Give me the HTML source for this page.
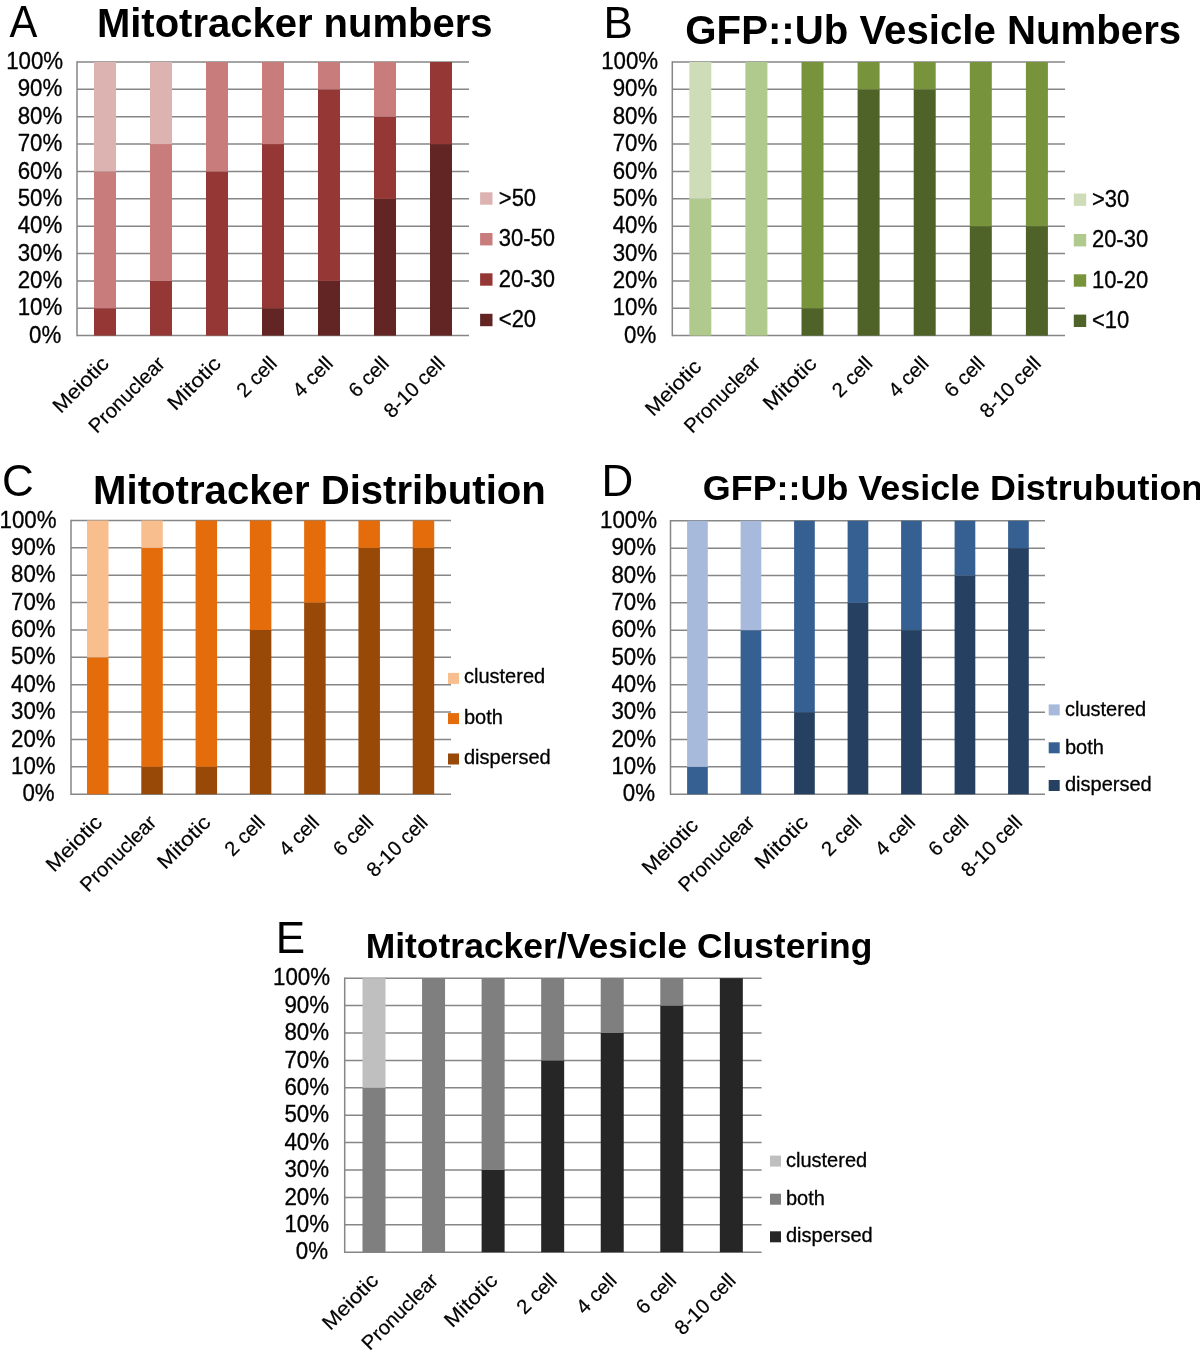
<!DOCTYPE html>
<html><head><meta charset="utf-8"><title>Figure</title>
<style>html,body{margin:0;padding:0;background:#fff;} body{width:1200px;height:1350px;overflow:hidden;font-family:"Liberation Sans", sans-serif;} svg{display:block;will-change:transform;}</style>
</head><body>
<svg width="1200" height="1350" viewBox="0 0 1200 1350" font-family='"Liberation Sans", sans-serif' fill="#000"><g stroke="#868686" stroke-width="1.5"><line x1="77" y1="62" x2="469" y2="62"/><line x1="77" y1="89.36" x2="469" y2="89.36"/><line x1="77" y1="116.72" x2="469" y2="116.72"/><line x1="77" y1="144.08" x2="469" y2="144.08"/><line x1="77" y1="171.44" x2="469" y2="171.44"/><line x1="77" y1="198.8" x2="469" y2="198.8"/><line x1="77" y1="226.16" x2="469" y2="226.16"/><line x1="77" y1="253.52" x2="469" y2="253.52"/><line x1="77" y1="280.88" x2="469" y2="280.88"/><line x1="77" y1="308.24" x2="469" y2="308.24"/><line x1="77" y1="335.6" x2="469" y2="335.6"/><line x1="77" y1="61.25" x2="77" y2="336.35"/></g>
<rect x="94" y="308.24" width="22" height="27.36" fill="#953735"/><rect x="94" y="171.44" width="22" height="136.8" fill="#C87C7B"/><rect x="94" y="62" width="22" height="109.44" fill="#DDB3B2"/><rect x="150" y="280.88" width="22" height="54.72" fill="#953735"/><rect x="150" y="144.08" width="22" height="136.8" fill="#C87C7B"/><rect x="150" y="62" width="22" height="82.08" fill="#DDB3B2"/><rect x="206" y="171.44" width="22" height="164.16" fill="#953735"/><rect x="206" y="62" width="22" height="109.44" fill="#C87C7B"/><rect x="262" y="308.24" width="22" height="27.36" fill="#632523"/><rect x="262" y="144.08" width="22" height="164.16" fill="#953735"/><rect x="262" y="62" width="22" height="82.08" fill="#C87C7B"/><rect x="318" y="280.88" width="22" height="54.72" fill="#632523"/><rect x="318" y="89.36" width="22" height="191.52" fill="#953735"/><rect x="318" y="62" width="22" height="27.36" fill="#C87C7B"/><rect x="374" y="198.8" width="22" height="136.8" fill="#632523"/><rect x="374" y="116.72" width="22" height="82.08" fill="#953735"/><rect x="374" y="62" width="22" height="54.72" fill="#C87C7B"/><rect x="430" y="144.08" width="22" height="191.52" fill="#632523"/><rect x="430" y="62" width="22" height="82.08" fill="#953735"/>
<g font-size="22.3" stroke="#000" stroke-width="0.3"><text transform="translate(63.19,69.1) scale(1,1.075)" text-anchor="end">100%</text><text transform="translate(62.29,96.46) scale(1,1.075)" text-anchor="end">90%</text><text transform="translate(62.29,123.82) scale(1,1.075)" text-anchor="end">80%</text><text transform="translate(62.29,151.18) scale(1,1.075)" text-anchor="end">70%</text><text transform="translate(62.29,178.54) scale(1,1.075)" text-anchor="end">60%</text><text transform="translate(62.29,205.9) scale(1,1.075)" text-anchor="end">50%</text><text transform="translate(62.29,233.26) scale(1,1.075)" text-anchor="end">40%</text><text transform="translate(62.29,260.62) scale(1,1.075)" text-anchor="end">30%</text><text transform="translate(62.29,287.98) scale(1,1.075)" text-anchor="end">20%</text><text transform="translate(62.29,315.34) scale(1,1.075)" text-anchor="end">10%</text><text transform="translate(61.29,342.7) scale(1,1.075)" text-anchor="end">0%</text></g>
<g><rect x="480.1" y="313.8" width="12.4" height="12.4" fill="#632523"/><text transform="translate(498.8,327) scale(1,1.09)" font-size="22" stroke="#000" stroke-width="0.3"><20</text><rect x="480.1" y="273.3" width="12.4" height="12.4" fill="#953735"/><text transform="translate(498.8,286.5) scale(1,1.09)" font-size="22" stroke="#000" stroke-width="0.3">20-30</text><rect x="480.1" y="233" width="12.4" height="12.4" fill="#C87C7B"/><text transform="translate(498.8,246.2) scale(1,1.09)" font-size="22" stroke="#000" stroke-width="0.3">30-50</text><rect x="480.1" y="192.3" width="12.4" height="12.4" fill="#DDB3B2"/><text transform="translate(498.8,205.5) scale(1,1.09)" font-size="22" stroke="#000" stroke-width="0.3">>50</text></g>
<g font-size="20.3" stroke="#000" stroke-width="0.2"><text transform="translate(110.15,364.9) rotate(-45)" text-anchor="end" textLength="69.8" lengthAdjust="spacingAndGlyphs">Meiotic</text><text transform="translate(166.15,364.9) rotate(-45)" text-anchor="end">Pronuclear</text><text transform="translate(222.15,364.9) rotate(-45)" text-anchor="end" textLength="65.9" lengthAdjust="spacingAndGlyphs">Mitotic</text><text transform="translate(278.15,364.9) rotate(-45)" text-anchor="end">2 cell</text><text transform="translate(334.15,364.9) rotate(-45)" text-anchor="end">4 cell</text><text transform="translate(390.15,364.9) rotate(-45)" text-anchor="end">6 cell</text><text transform="translate(446.15,364.9) rotate(-45)" text-anchor="end">8-10 cell</text></g>
<text transform="translate(9.41,36.9) scale(0.95,1)" font-size="44">A</text>
<text transform="translate(96.92,37.4) scale(1,1.03)" font-size="40" font-weight="bold">Mitotracker numbers</text>
<g stroke="#868686" stroke-width="1.5"><line x1="672.3" y1="62" x2="1065" y2="62"/><line x1="672.3" y1="89.36" x2="1065" y2="89.36"/><line x1="672.3" y1="116.72" x2="1065" y2="116.72"/><line x1="672.3" y1="144.08" x2="1065" y2="144.08"/><line x1="672.3" y1="171.44" x2="1065" y2="171.44"/><line x1="672.3" y1="198.8" x2="1065" y2="198.8"/><line x1="672.3" y1="226.16" x2="1065" y2="226.16"/><line x1="672.3" y1="253.52" x2="1065" y2="253.52"/><line x1="672.3" y1="280.88" x2="1065" y2="280.88"/><line x1="672.3" y1="308.24" x2="1065" y2="308.24"/><line x1="672.3" y1="335.6" x2="1065" y2="335.6"/><line x1="672.3" y1="61.25" x2="672.3" y2="336.35"/></g>
<rect x="689.3" y="198.8" width="22" height="136.8" fill="#B0C98C"/><rect x="689.3" y="62" width="22" height="136.8" fill="#CEDDB8"/><rect x="745.4" y="62" width="22" height="273.6" fill="#B0C98C"/><rect x="801.5" y="308.24" width="22" height="27.36" fill="#4F6228"/><rect x="801.5" y="62" width="22" height="246.24" fill="#77933C"/><rect x="857.6" y="89.36" width="22" height="246.24" fill="#4F6228"/><rect x="857.6" y="62" width="22" height="27.36" fill="#77933C"/><rect x="913.7" y="89.36" width="22" height="246.24" fill="#4F6228"/><rect x="913.7" y="62" width="22" height="27.36" fill="#77933C"/><rect x="969.8" y="226.16" width="22" height="109.44" fill="#4F6228"/><rect x="969.8" y="62" width="22" height="164.16" fill="#77933C"/><rect x="1025.9" y="226.16" width="22" height="109.44" fill="#4F6228"/><rect x="1025.9" y="62" width="22" height="164.16" fill="#77933C"/>
<g font-size="22.3" stroke="#000" stroke-width="0.3"><text transform="translate(658.19,69.1) scale(1,1.075)" text-anchor="end">100%</text><text transform="translate(657.29,96.46) scale(1,1.075)" text-anchor="end">90%</text><text transform="translate(657.29,123.82) scale(1,1.075)" text-anchor="end">80%</text><text transform="translate(657.29,151.18) scale(1,1.075)" text-anchor="end">70%</text><text transform="translate(657.29,178.54) scale(1,1.075)" text-anchor="end">60%</text><text transform="translate(657.29,205.9) scale(1,1.075)" text-anchor="end">50%</text><text transform="translate(657.29,233.26) scale(1,1.075)" text-anchor="end">40%</text><text transform="translate(657.29,260.62) scale(1,1.075)" text-anchor="end">30%</text><text transform="translate(657.29,287.98) scale(1,1.075)" text-anchor="end">20%</text><text transform="translate(657.29,315.34) scale(1,1.075)" text-anchor="end">10%</text><text transform="translate(656.29,342.7) scale(1,1.075)" text-anchor="end">0%</text></g>
<g><rect x="1073.8" y="314.6" width="12.4" height="12.4" fill="#4F6228"/><text transform="translate(1091.9,327.8) scale(1,1.09)" font-size="22" stroke="#000" stroke-width="0.3"><10</text><rect x="1073.8" y="274.3" width="12.4" height="12.4" fill="#77933C"/><text transform="translate(1091.9,287.5) scale(1,1.09)" font-size="22" stroke="#000" stroke-width="0.3">10-20</text><rect x="1073.8" y="234" width="12.4" height="12.4" fill="#B0C98C"/><text transform="translate(1091.9,247.2) scale(1,1.09)" font-size="22" stroke="#000" stroke-width="0.3">20-30</text><rect x="1073.8" y="193.5" width="12.4" height="12.4" fill="#CEDDB8"/><text transform="translate(1091.9,206.7) scale(1,1.09)" font-size="22" stroke="#000" stroke-width="0.3">>30</text></g>
<g font-size="20.3" stroke="#000" stroke-width="0.2"><text transform="translate(702.5,367.9) rotate(-45)" text-anchor="end" textLength="69.8" lengthAdjust="spacingAndGlyphs">Meiotic</text><text transform="translate(761.6,364.9) rotate(-45)" text-anchor="end">Pronuclear</text><text transform="translate(817.7,364.9) rotate(-45)" text-anchor="end" textLength="65.9" lengthAdjust="spacingAndGlyphs">Mitotic</text><text transform="translate(873.8,364.9) rotate(-45)" text-anchor="end">2 cell</text><text transform="translate(929.9,364.9) rotate(-45)" text-anchor="end">4 cell</text><text transform="translate(986,364.9) rotate(-45)" text-anchor="end">6 cell</text><text transform="translate(1042.1,364.9) rotate(-45)" text-anchor="end">8-10 cell</text></g>
<text transform="translate(603.49,37.9) scale(1,1)" font-size="44">B</text>
<text transform="translate(685.35,43.6) scale(1,1.0)" font-size="40.2" font-weight="bold">GFP::Ub Vesicle Numbers</text>
<g stroke="#868686" stroke-width="1.5"><line x1="71" y1="520.5" x2="451" y2="520.5"/><line x1="71" y1="547.87" x2="451" y2="547.87"/><line x1="71" y1="575.24" x2="451" y2="575.24"/><line x1="71" y1="602.61" x2="451" y2="602.61"/><line x1="71" y1="629.98" x2="451" y2="629.98"/><line x1="71" y1="657.35" x2="451" y2="657.35"/><line x1="71" y1="684.72" x2="451" y2="684.72"/><line x1="71" y1="712.09" x2="451" y2="712.09"/><line x1="71" y1="739.46" x2="451" y2="739.46"/><line x1="71" y1="766.83" x2="451" y2="766.83"/><line x1="71" y1="794.2" x2="451" y2="794.2"/><line x1="71" y1="519.75" x2="71" y2="794.95"/></g>
<rect x="87" y="657.35" width="21.5" height="136.85" fill="#E46C0A"/><rect x="87" y="520.5" width="21.5" height="136.85" fill="#F9BE8E"/><rect x="141.29" y="766.83" width="21.5" height="27.37" fill="#984807"/><rect x="141.29" y="547.87" width="21.5" height="218.96" fill="#E46C0A"/><rect x="141.29" y="520.5" width="21.5" height="27.37" fill="#F9BE8E"/><rect x="195.57" y="766.83" width="21.5" height="27.37" fill="#984807"/><rect x="195.57" y="520.5" width="21.5" height="246.33" fill="#E46C0A"/><rect x="249.86" y="629.98" width="21.5" height="164.22" fill="#984807"/><rect x="249.86" y="520.5" width="21.5" height="109.48" fill="#E46C0A"/><rect x="304.14" y="602.61" width="21.5" height="191.59" fill="#984807"/><rect x="304.14" y="520.5" width="21.5" height="82.11" fill="#E46C0A"/><rect x="358.43" y="547.87" width="21.5" height="246.33" fill="#984807"/><rect x="358.43" y="520.5" width="21.5" height="27.37" fill="#E46C0A"/><rect x="412.71" y="547.87" width="21.5" height="246.33" fill="#984807"/><rect x="412.71" y="520.5" width="21.5" height="27.37" fill="#E46C0A"/>
<g font-size="22.3" stroke="#000" stroke-width="0.3"><text transform="translate(56.59,527.6) scale(1,1.075)" text-anchor="end">100%</text><text transform="translate(55.69,554.97) scale(1,1.075)" text-anchor="end">90%</text><text transform="translate(55.69,582.34) scale(1,1.075)" text-anchor="end">80%</text><text transform="translate(55.69,609.71) scale(1,1.075)" text-anchor="end">70%</text><text transform="translate(55.69,637.08) scale(1,1.075)" text-anchor="end">60%</text><text transform="translate(55.69,664.45) scale(1,1.075)" text-anchor="end">50%</text><text transform="translate(55.69,691.82) scale(1,1.075)" text-anchor="end">40%</text><text transform="translate(55.69,719.19) scale(1,1.075)" text-anchor="end">30%</text><text transform="translate(55.69,746.56) scale(1,1.075)" text-anchor="end">20%</text><text transform="translate(55.69,773.93) scale(1,1.075)" text-anchor="end">10%</text><text transform="translate(54.69,801.3) scale(1,1.075)" text-anchor="end">0%</text></g>
<g><rect x="448" y="753.5" width="11" height="11" fill="#984807"/><text transform="translate(464,764) scale(1,1.0)" font-size="20" stroke="#000" stroke-width="0.3">dispersed</text><rect x="448" y="713.1" width="11" height="11" fill="#E46C0A"/><text transform="translate(464,723.6) scale(1,1.0)" font-size="20" stroke="#000" stroke-width="0.3">both</text><rect x="448" y="672.9" width="11" height="11" fill="#F9BE8E"/><text transform="translate(464,683.4) scale(1,1.0)" font-size="20" stroke="#000" stroke-width="0.3">clustered</text></g>
<g font-size="20.3" stroke="#000" stroke-width="0.2"><text transform="translate(103.29,823.7) rotate(-45)" text-anchor="end" textLength="69.8" lengthAdjust="spacingAndGlyphs">Meiotic</text><text transform="translate(157.58,823.7) rotate(-45)" text-anchor="end">Pronuclear</text><text transform="translate(211.86,823.7) rotate(-45)" text-anchor="end" textLength="65.9" lengthAdjust="spacingAndGlyphs">Mitotic</text><text transform="translate(266.15,823.7) rotate(-45)" text-anchor="end">2 cell</text><text transform="translate(320.44,823.7) rotate(-45)" text-anchor="end">4 cell</text><text transform="translate(374.72,823.7) rotate(-45)" text-anchor="end">6 cell</text><text transform="translate(429.01,823.7) rotate(-45)" text-anchor="end">8-10 cell</text></g>
<text transform="translate(1.97,496.2) scale(1,1)" font-size="44">C</text>
<text transform="translate(93.11,504) scale(1,1.01)" font-size="40.15" font-weight="bold">Mitotracker Distribution</text>
<g stroke="#868686" stroke-width="1.5"><line x1="670.5" y1="520.8" x2="1045" y2="520.8"/><line x1="670.5" y1="548.14" x2="1045" y2="548.14"/><line x1="670.5" y1="575.48" x2="1045" y2="575.48"/><line x1="670.5" y1="602.82" x2="1045" y2="602.82"/><line x1="670.5" y1="630.16" x2="1045" y2="630.16"/><line x1="670.5" y1="657.5" x2="1045" y2="657.5"/><line x1="670.5" y1="684.84" x2="1045" y2="684.84"/><line x1="670.5" y1="712.18" x2="1045" y2="712.18"/><line x1="670.5" y1="739.52" x2="1045" y2="739.52"/><line x1="670.5" y1="766.86" x2="1045" y2="766.86"/><line x1="670.5" y1="794.2" x2="1045" y2="794.2"/><line x1="670.5" y1="520.05" x2="670.5" y2="794.95"/></g>
<rect x="687.1" y="766.86" width="20.7" height="27.34" fill="#376092"/><rect x="687.1" y="520.8" width="20.7" height="246.06" fill="#A7BADB"/><rect x="740.6" y="630.16" width="20.7" height="164.04" fill="#376092"/><rect x="740.6" y="520.8" width="20.7" height="109.36" fill="#A7BADB"/><rect x="794.1" y="712.18" width="20.7" height="82.02" fill="#254061"/><rect x="794.1" y="520.8" width="20.7" height="191.38" fill="#376092"/><rect x="847.6" y="602.82" width="20.7" height="191.38" fill="#254061"/><rect x="847.6" y="520.8" width="20.7" height="82.02" fill="#376092"/><rect x="901.1" y="630.16" width="20.7" height="164.04" fill="#254061"/><rect x="901.1" y="520.8" width="20.7" height="109.36" fill="#376092"/><rect x="954.6" y="575.48" width="20.7" height="218.72" fill="#254061"/><rect x="954.6" y="520.8" width="20.7" height="54.68" fill="#376092"/><rect x="1008.1" y="548.14" width="20.7" height="246.06" fill="#254061"/><rect x="1008.1" y="520.8" width="20.7" height="27.34" fill="#376092"/>
<g font-size="22.3" stroke="#000" stroke-width="0.3"><text transform="translate(656.99,527.9) scale(1,1.075)" text-anchor="end">100%</text><text transform="translate(656.09,555.24) scale(1,1.075)" text-anchor="end">90%</text><text transform="translate(656.09,582.58) scale(1,1.075)" text-anchor="end">80%</text><text transform="translate(656.09,609.92) scale(1,1.075)" text-anchor="end">70%</text><text transform="translate(656.09,637.26) scale(1,1.075)" text-anchor="end">60%</text><text transform="translate(656.09,664.6) scale(1,1.075)" text-anchor="end">50%</text><text transform="translate(656.09,691.94) scale(1,1.075)" text-anchor="end">40%</text><text transform="translate(656.09,719.28) scale(1,1.075)" text-anchor="end">30%</text><text transform="translate(656.09,746.62) scale(1,1.075)" text-anchor="end">20%</text><text transform="translate(656.09,773.96) scale(1,1.075)" text-anchor="end">10%</text><text transform="translate(655.09,801.3) scale(1,1.075)" text-anchor="end">0%</text></g>
<g><rect x="1048.7" y="780" width="11" height="11" fill="#254061"/><text transform="translate(1065,791.3) scale(1,1.0)" font-size="20" stroke="#000" stroke-width="0.3">dispersed</text><rect x="1048.7" y="742.3" width="11" height="11" fill="#376092"/><text transform="translate(1065,753.6) scale(1,1.0)" font-size="20" stroke="#000" stroke-width="0.3">both</text><rect x="1048.7" y="704.4" width="11" height="11" fill="#A7BADB"/><text transform="translate(1065,715.7) scale(1,1.0)" font-size="20" stroke="#000" stroke-width="0.3">clustered</text></g>
<g font-size="20.3" stroke="#000" stroke-width="0.2"><text transform="translate(699.4,826.7) rotate(-45)" text-anchor="end" textLength="69.8" lengthAdjust="spacingAndGlyphs">Meiotic</text><text transform="translate(755.9,823.7) rotate(-45)" text-anchor="end">Pronuclear</text><text transform="translate(809.4,823.7) rotate(-45)" text-anchor="end" textLength="65.9" lengthAdjust="spacingAndGlyphs">Mitotic</text><text transform="translate(862.9,823.7) rotate(-45)" text-anchor="end">2 cell</text><text transform="translate(916.4,823.7) rotate(-45)" text-anchor="end">4 cell</text><text transform="translate(969.9,823.7) rotate(-45)" text-anchor="end">6 cell</text><text transform="translate(1023.4,823.7) rotate(-45)" text-anchor="end">8-10 cell</text></g>
<text transform="translate(601.59,495.6) scale(1,1)" font-size="44">D</text>
<text transform="translate(702.83,499.7) scale(1,0.975)" font-size="35.9" font-weight="bold">GFP::Ub Vesicle Distrubution</text>
<g stroke="#868686" stroke-width="1.5"><line x1="344.7" y1="978.2" x2="761.6" y2="978.2"/><line x1="344.7" y1="1005.6" x2="761.6" y2="1005.6"/><line x1="344.7" y1="1033" x2="761.6" y2="1033"/><line x1="344.7" y1="1060.4" x2="761.6" y2="1060.4"/><line x1="344.7" y1="1087.8" x2="761.6" y2="1087.8"/><line x1="344.7" y1="1115.2" x2="761.6" y2="1115.2"/><line x1="344.7" y1="1142.6" x2="761.6" y2="1142.6"/><line x1="344.7" y1="1170" x2="761.6" y2="1170"/><line x1="344.7" y1="1197.4" x2="761.6" y2="1197.4"/><line x1="344.7" y1="1224.8" x2="761.6" y2="1224.8"/><line x1="344.7" y1="1252.2" x2="761.6" y2="1252.2"/><line x1="344.7" y1="977.45" x2="344.7" y2="1252.95"/></g>
<rect x="362.5" y="1087.8" width="23" height="164.4" fill="#7F7F7F"/><rect x="362.5" y="978.2" width="23" height="109.6" fill="#BFBFBF"/><rect x="422.06" y="978.2" width="23" height="274" fill="#7F7F7F"/><rect x="481.61" y="1170" width="23" height="82.2" fill="#262626"/><rect x="481.61" y="978.2" width="23" height="191.8" fill="#7F7F7F"/><rect x="541.17" y="1060.4" width="23" height="191.8" fill="#262626"/><rect x="541.17" y="978.2" width="23" height="82.2" fill="#7F7F7F"/><rect x="600.73" y="1033" width="23" height="219.2" fill="#262626"/><rect x="600.73" y="978.2" width="23" height="54.8" fill="#7F7F7F"/><rect x="660.29" y="1005.6" width="23" height="246.6" fill="#262626"/><rect x="660.29" y="978.2" width="23" height="27.4" fill="#7F7F7F"/><rect x="719.84" y="978.2" width="23" height="274" fill="#262626"/>
<g font-size="22.3" stroke="#000" stroke-width="0.3"><text transform="translate(329.99,985.3) scale(1,1.075)" text-anchor="end">100%</text><text transform="translate(329.09,1012.7) scale(1,1.075)" text-anchor="end">90%</text><text transform="translate(329.09,1040.1) scale(1,1.075)" text-anchor="end">80%</text><text transform="translate(329.09,1067.5) scale(1,1.075)" text-anchor="end">70%</text><text transform="translate(329.09,1094.9) scale(1,1.075)" text-anchor="end">60%</text><text transform="translate(329.09,1122.3) scale(1,1.075)" text-anchor="end">50%</text><text transform="translate(329.09,1149.7) scale(1,1.075)" text-anchor="end">40%</text><text transform="translate(329.09,1177.1) scale(1,1.075)" text-anchor="end">30%</text><text transform="translate(329.09,1204.5) scale(1,1.075)" text-anchor="end">20%</text><text transform="translate(329.09,1231.9) scale(1,1.075)" text-anchor="end">10%</text><text transform="translate(328.09,1259.3) scale(1,1.075)" text-anchor="end">0%</text></g>
<g><rect x="770" y="1231.3" width="11" height="11" fill="#262626"/><text transform="translate(786,1242.2) scale(1,1.0)" font-size="20" stroke="#000" stroke-width="0.3">dispersed</text><rect x="770" y="1193.7" width="11" height="11" fill="#7F7F7F"/><text transform="translate(786,1204.6) scale(1,1.0)" font-size="20" stroke="#000" stroke-width="0.3">both</text><rect x="770" y="1155.6" width="11" height="11" fill="#BFBFBF"/><text transform="translate(786,1166.5) scale(1,1.0)" font-size="20" stroke="#000" stroke-width="0.3">clustered</text></g>
<g font-size="20.3" stroke="#000" stroke-width="0.2"><text transform="translate(379.63,1281.8) rotate(-45)" text-anchor="end" textLength="69.8" lengthAdjust="spacingAndGlyphs">Meiotic</text><text transform="translate(439.19,1281.8) rotate(-45)" text-anchor="end">Pronuclear</text><text transform="translate(498.74,1281.8) rotate(-45)" text-anchor="end" textLength="65.9" lengthAdjust="spacingAndGlyphs">Mitotic</text><text transform="translate(558.3,1281.8) rotate(-45)" text-anchor="end">2 cell</text><text transform="translate(617.86,1281.8) rotate(-45)" text-anchor="end">4 cell</text><text transform="translate(677.41,1281.8) rotate(-45)" text-anchor="end">6 cell</text><text transform="translate(736.97,1281.8) rotate(-45)" text-anchor="end">8-10 cell</text></g>
<text transform="translate(275.64,953.25) scale(1,1)" font-size="44">E</text>
<text transform="translate(365.63,957.5) scale(1,0.98)" font-size="35.5" font-weight="bold">Mitotracker/Vesicle Clustering</text></svg>
</body></html>
